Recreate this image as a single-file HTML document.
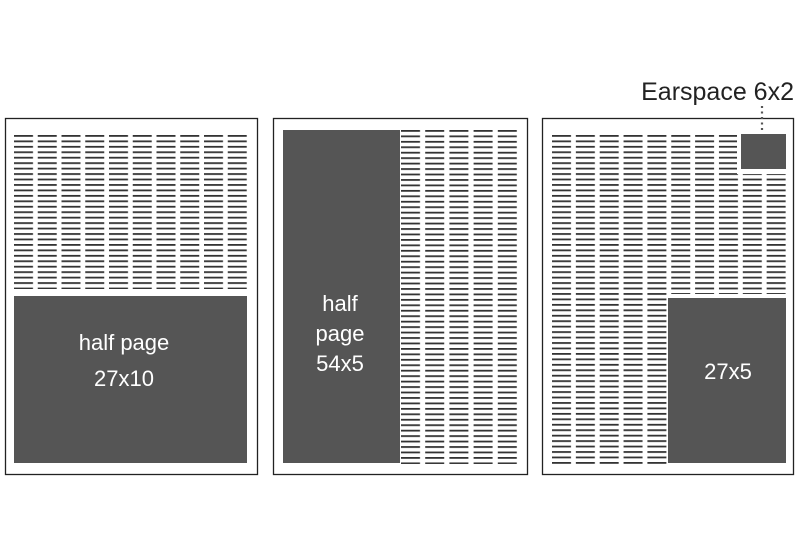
<!DOCTYPE html>
<html><head><style>body{margin:0;background:#fff}</style></head><body>
<svg width="800" height="550" xmlns="http://www.w3.org/2000/svg" style="display:block">
<defs>
<pattern id="p1" x="14" y="135" width="23.75" height="5.45" patternUnits="userSpaceOnUse"><rect x="0" y="0" width="19" height="1.8" fill="#333"/></pattern>
<pattern id="p2" x="401" y="130" width="24.2" height="5.45" patternUnits="userSpaceOnUse"><rect x="0" y="0" width="19" height="1.8" fill="#333"/></pattern>
<pattern id="p3" x="552" y="135" width="23.85" height="5.45" patternUnits="userSpaceOnUse"><rect x="0" y="0" width="19" height="1.8" fill="#333"/></pattern>
</defs>
<rect x="0" y="0" width="800" height="550" fill="#fff"/>
<!-- panel 1 -->
<rect x="5.5" y="118.5" width="252" height="356" fill="#fff" stroke="#222" stroke-width="1.3"/>
<rect x="14" y="135" width="234" height="154" fill="url(#p1)"/>
<rect x="14" y="296" width="233" height="167" fill="#555"/>
<text x="124" y="350" font-family="Liberation Sans, sans-serif" font-size="22" fill="#fff" text-anchor="middle">half page</text>
<text x="124" y="386" font-family="Liberation Sans, sans-serif" font-size="22" fill="#fff" text-anchor="middle">27x10</text>
<!-- panel 2 -->
<rect x="273.5" y="118.5" width="254" height="356" fill="#fff" stroke="#222" stroke-width="1.3"/>
<rect x="401" y="130" width="119" height="334" fill="url(#p2)"/>
<rect x="283" y="130" width="117" height="333" fill="#555"/>
<text x="340" y="311" font-family="Liberation Sans, sans-serif" font-size="22" fill="#fff" text-anchor="middle">half</text>
<text x="340" y="341" font-family="Liberation Sans, sans-serif" font-size="22" fill="#fff" text-anchor="middle">page</text>
<text x="340" y="371" font-family="Liberation Sans, sans-serif" font-size="22" fill="#fff" text-anchor="middle">54x5</text>
<!-- panel 3 -->
<rect x="542.5" y="118.5" width="251" height="356" fill="#fff" stroke="#222" stroke-width="1.3"/>
<rect x="552" y="135" width="235" height="329" fill="url(#p3)"/>
<rect x="737" y="130" width="54" height="44" fill="#fff"/>
<rect x="741" y="134" width="45" height="35" fill="#555"/>
<rect x="667" y="294" width="124" height="175" fill="#fff"/>
<rect x="668" y="298" width="118" height="165" fill="#555"/>
<text x="728" y="379" font-family="Liberation Sans, sans-serif" font-size="22" fill="#fff" text-anchor="middle">27x5</text>
<line x1="762" y1="106" x2="762" y2="131" stroke="#555" stroke-width="2.2" stroke-dasharray="2,3.5"/>
<text x="794" y="100" font-family="Liberation Sans, sans-serif" font-size="25" fill="#222" text-anchor="end">Earspace 6x2</text>
</svg>
</body></html>
